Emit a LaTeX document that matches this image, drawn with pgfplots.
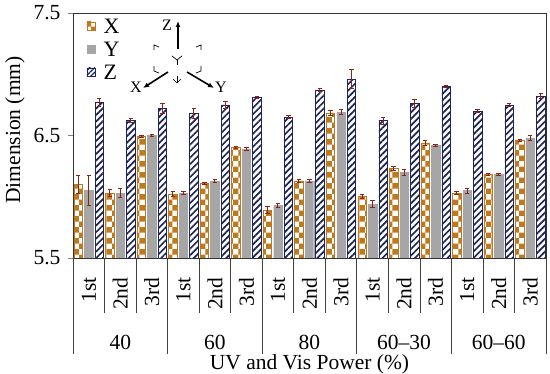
\documentclass[border=0pt]{standalone}
\usepackage{fontspec}
\setmainfont{Liberation Serif}
\usepackage{pgfplots}
\pgfplotsset{compat=1.18}
\usepackage{pgfplotstable}
\usetikzlibrary{patterns,patterns.meta,arrows.meta}

\definecolor{xcol}{RGB}{190,120,30}
\definecolor{ycol}{RGB}{166,166,166}
\definecolor{zcol}{RGB}{28,36,88}
\definecolor{ecol}{RGB}{140,35,20}

\pgfplotstableread{
i X Xe Y Ye Z Ze
0 6.10 0.07 6.05 0.12 6.77 0.03
1 6.03 0.03 6.03 0.04 6.62 0.015
2 6.49 0.01 6.50 0.01 6.72 0.04
3 6.02 0.02 6.03 0.015 6.68 0.04
4 6.11 0.01 6.13 0.01 6.75 0.03
5 6.40 0.01 6.39 0.01 6.81 0.01
6 5.89 0.03 5.93 0.015 6.65 0.015
7 6.13 0.01 6.13 0.01 6.87 0.01
8 6.68 0.02 6.69 0.02 6.96 0.08
9 6.00 0.015 5.94 0.03 6.62 0.03
10 6.23 0.015 6.20 0.025 6.76 0.03
11 6.44 0.02 6.42 0.01 6.90 0.01
12 6.03 0.015 6.05 0.02 6.70 0.015
13 6.18 0.01 6.18 0.01 6.75 0.01
14 6.46 0.01 6.48 0.02 6.82 0.02
}\data

\begin{document}
\begin{tikzpicture}[font=\fontsize{21.5}{25}\selectfont]
\begin{axis}[name=ax, scale only axis, width=473pt, height=245pt,
  xmin=-0.5, xmax=14.5, ymin=5.5, ymax=7.5,
  ybar=2pt, bar width=8.5pt,
  axis line style={line width=0.8pt, black!80},
  ytick={5.5,6.5,7.5}, ytick pos=left, tick align=outside,
  major tick length=5pt,
  /pgf/number format/fixed, /pgf/number format/fixed zerofill,
  /pgf/number format/precision=1, /pgf/number format/assume math mode=true,
  yticklabel style={xshift=-4pt},
  xtick={0,...,14},
  xticklabels={1st,2nd,3rd,1st,2nd,3rd,1st,2nd,3rd,1st,2nd,3rd,1st,2nd,3rd},
  xtick style={draw=none},
  xticklabel style={yshift=-11pt, rotate=90, anchor=east},
  error bars/y dir=both, error bars/y explicit,
  error bars/error bar style={line width=1pt, ecol},
  error bars/error mark options={rotate=90, mark size=2.2pt, line width=1pt, ecol},
]
\addplot[pattern=checkerboard, pattern color=xcol, draw=xcol, line width=0.6pt]
  table[x=i, y=X, y error=Xe] {\data};
\addplot[fill=ycol, draw=ycol]
  table[x=i, y=Y, y error=Ye] {\data};
\addplot[pattern={Lines[angle=45, distance=4.6pt, line width=1.7pt]}, pattern color=zcol, draw=zcol, line width=0.6pt]
  table[x=i, y=Z, y error=Ze] {\data};
\end{axis}

% x-axis category structure
\begin{scope}[shift={(ax.south west)}, x=31.5333pt, y=1pt]
  \foreach \k in {1,2,4,5,7,8,10,11,13,14} \draw[black!75, line width=0.6pt] (\k,0) -- (\k,-55);
  \foreach \k in {0,3,6,9,12,15} \draw[black!75, line width=0.6pt] (\k,0) -- (\k,-96);
  \begin{scope}[every node/.style={inner sep=0pt}]
  \node at (1.5,-84) {40};
  \node at (4.5,-84) {60};
  \node at (7.5,-84) {80};
  \node at (10.5,-84) {60--30};
  \node at (13.5,-84) {60--60};
  \node at (7.5,-106) {UV and Vis Power (\%)};
  \end{scope}
\end{scope}

% pixel-based decorations
\begin{scope}[shift={(ax.north west)}, x=1pt, y=-1pt]
  \path (-73,-13) rectangle (477,359);
  \node[rotate=90] at (-58,117) {Dimension (mm)};
  % legend
  \draw[pattern=checkerboard, pattern color=xcol, draw=xcol, line width=0.6pt] (14,9) rectangle (22,17);
  \node[anchor=west, font=\fontsize{22}{24}\selectfont] at (27,13) {X};
  \draw[fill=ycol, draw=ycol] (14,32) rectangle (22,40);
  \node[anchor=west, font=\fontsize{22}{24}\selectfont] at (27,36) {Y};
  \draw[pattern={Lines[angle=45, distance=3.4pt, line width=1.3pt]}, pattern color=zcol, draw=zcol, line width=0.6pt] (14,55) rectangle (22,63);
  \node[anchor=west, font=\fontsize{22}{24}\selectfont] at (27,59) {Z};
  % coordinate inset
  \begin{scope}[line width=1.6pt, -{Latex[length=6pt,width=5pt]}]
    \draw (105,36) -- (105,8);
    \draw (95,59) -- (70,75);
    \draw (114,59) -- (141,75);
  \end{scope}
  \node[font=\fontsize{16}{18}\selectfont] at (94,12) {Z};
  \node[font=\fontsize{16}{18}\selectfont] at (63,74) {X};
  \node[font=\fontsize{16}{18}\selectfont] at (148,74) {Y};
  \begin{scope}[line width=0.7pt]
    \draw (99,43) -- (104,47) -- (109,43);
    \draw (104,47) -- (104,52);
    \draw (81,37) -- (81,32) -- (86,34);
    \draw (128,37) -- (128,32) -- (123,34);
    \draw (81,53) -- (81,58) -- (86,60);
    \draw (128,53) -- (128,58) -- (123,60);
    \draw (100,66) -- (104,70) -- (108,66);
    \draw (104,63) -- (104,70);
  \end{scope}
\end{scope}
\end{tikzpicture}
\end{document}
